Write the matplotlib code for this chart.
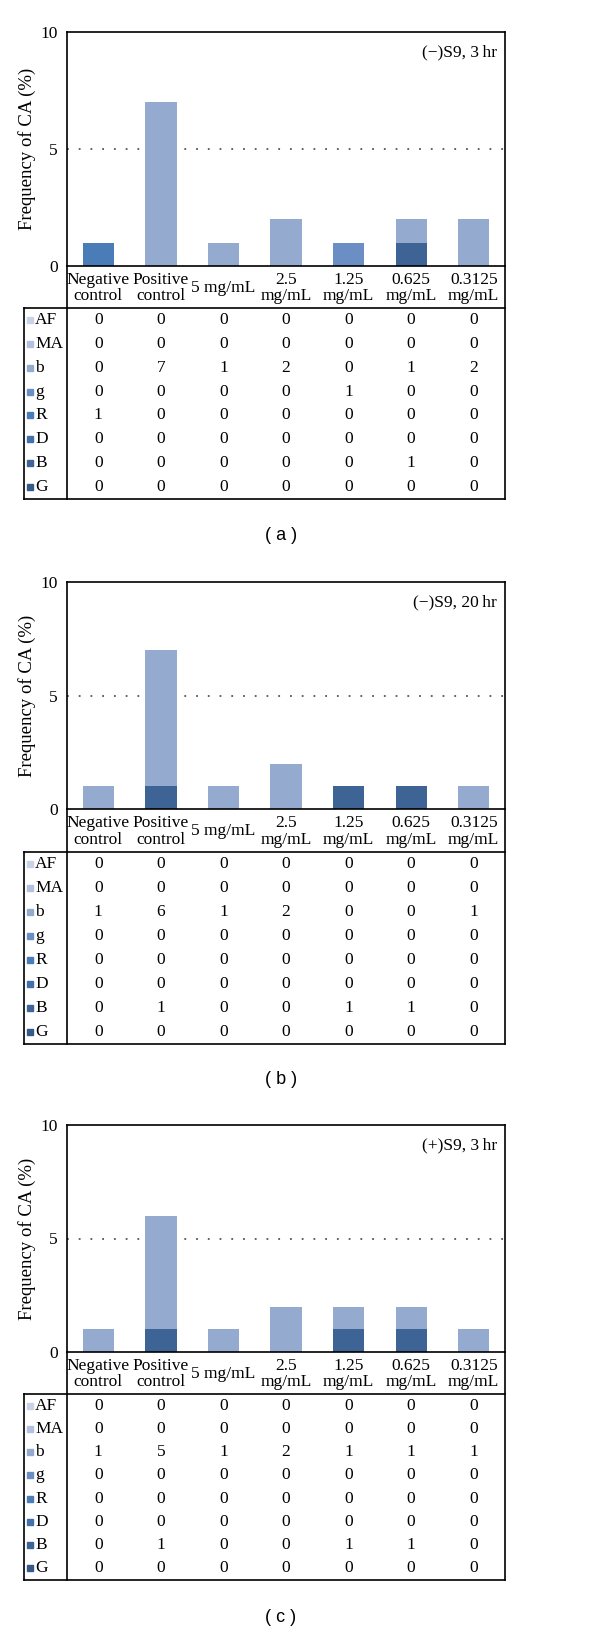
import matplotlib
matplotlib.use('Agg')
import matplotlib.pyplot as plt

plt.rcParams['font.family'] = ['Liberation Serif', 'DejaVu Serif']

categories = ['Negative\ncontrol', 'Positive\ncontrol', '5 mg/mL', '2.5\nmg/mL',
              '1.25\nmg/mL', '0.625\nmg/mL', '0.3125\nmg/mL']
aberrations = ['AF', 'MA', 'b', 'g', 'R', 'D', 'B', 'G']
colors = ['#C9D3E6', '#B2C2DE', '#95AACF', '#6B8FC4',
          '#4A7CB8', '#4270AA', '#3E6496', '#355A86']

# counts per aberration type (rows, same order as aberrations) for each treatment
counts_a = [
    [0, 0, 0, 0, 0, 0, 0],
    [0, 0, 0, 0, 0, 0, 0],
    [0, 7, 1, 2, 0, 1, 2],
    [0, 0, 0, 0, 1, 0, 0],
    [1, 0, 0, 0, 0, 0, 0],
    [0, 0, 0, 0, 0, 0, 0],
    [0, 0, 0, 0, 0, 1, 0],
    [0, 0, 0, 0, 0, 0, 0],
]
counts_b = [
    [0, 0, 0, 0, 0, 0, 0],
    [0, 0, 0, 0, 0, 0, 0],
    [1, 6, 1, 2, 0, 0, 1],
    [0, 0, 0, 0, 0, 0, 0],
    [0, 0, 0, 0, 0, 0, 0],
    [0, 0, 0, 0, 0, 0, 0],
    [0, 1, 0, 0, 1, 1, 0],
    [0, 0, 0, 0, 0, 0, 0],
]
counts_c = [
    [0, 0, 0, 0, 0, 0, 0],
    [0, 0, 0, 0, 0, 0, 0],
    [1, 5, 1, 2, 1, 1, 1],
    [0, 0, 0, 0, 0, 0, 0],
    [0, 0, 0, 0, 0, 0, 0],
    [0, 0, 0, 0, 0, 0, 0],
    [0, 1, 0, 0, 1, 1, 0],
    [0, 0, 0, 0, 0, 0, 0],
]
notes = ['(\u2212)S9, 3\u2009hr', '(\u2212)S9, 20\u2009hr', '(+)S9, 3\u2009hr']
captions = ['( a )', '( b )', '( c )']

W, H = 600, 1632
X0, X1, XT = 67, 505, 24   # plot left / right, table left edge (px)
# top, zero line, label row bottom, table bottom, caption y (px)
layout = [
    (32, 266, 308, 499, 535),
    (582, 809, 852, 1044, 1080),
    (1125, 1352, 1394, 1580, 1617),
]
FS = 12.5


def draw_panel(fig, counts, note, caption, top, zero, lab, tbot, cap_y):
    n = len(categories)
    ax = fig.add_axes([X0 / W, 1 - zero / H, (X1 - X0) / W, (zero - top) / H])
    x = list(range(n))
    bottom = [0] * n
    # darkest type at the bottom of the stack
    for color, row in reversed(list(zip(colors, counts))):
        ax.bar(x, row, width=0.5, bottom=bottom, color=color, zorder=2)
        bottom = [b + v for b, v in zip(bottom, row)]
    ax.set_xlim(-0.5, n - 0.5)
    ax.set_ylim(0, 10)
    ax.set_yticks([0, 5, 10])
    ax.set_xticks([])
    ax.tick_params(axis='y', length=0, pad=6.5, labelsize=FS)
    ax.axhline(5, color='#555555', lw=1.3, linestyle=(0, (1, 5.5)), zorder=1)
    for s in ax.spines.values():
        s.set_linewidth(1.2)
    ax.text(0.982, 1 - 20 / (zero - top), note, transform=ax.transAxes,
            ha='right', va='center', fontsize=FS)
    fig.text(27 / W, 1 - (top + zero) / 2 / H, 'Frequency of CA (%)',
             rotation=90, ha='center', va='center', fontsize=13.5)

    # table below the bars
    u = (X1 - X0) / n
    tx0 = -0.5 - (X0 - XT) / u
    tab = fig.add_axes([XT / W, 1 - tbot / H, (X1 - XT) / W, (tbot - zero) / H])
    tab.set_xlim(tx0, n - 0.5)
    tab.set_ylim(tbot - zero, 0)
    tab.axis('off')
    lh = lab - zero
    bot = tbot - zero
    rh = (tbot - lab) / len(aberrations)
    kw = dict(color='black', lw=1.2, clip_on=False, solid_capstyle='projecting')
    tab.plot([-0.5, -0.5], [0, bot], **kw)
    tab.plot([n - 0.5, n - 0.5], [0, bot], **kw)
    tab.plot([tx0, n - 0.5], [lh, lh], **kw)
    tab.plot([tx0, n - 0.5], [bot, bot], **kw)
    tab.plot([tx0, tx0], [lh, bot], **kw)
    for i, cat in enumerate(categories):
        tab.text(i, lh / 2 + 1, cat, ha='center', va='center',
                 fontsize=FS, linespacing=1.08)
    for r, (name, color, row) in enumerate(zip(aberrations, colors, counts)):
        yc = lh + (r + 0.5) * rh
        tab.plot(tx0 + 5.5 / u, yc, marker='s', ms=4.8, color=color,
                 clip_on=False)
        tab.text(tx0 + 11 / u, yc, name, ha='left', va='center', fontsize=FS)
        for i, v in enumerate(row):
            tab.text(i, yc, str(v), ha='center', va='center', fontsize=FS)

    fig.text(281 / W, 1 - cap_y / H, caption, ha='center', va='center',
             fontsize=13, family='Liberation Sans')


def main():
    fig = plt.figure(figsize=(W / 100, H / 100), dpi=100)
    panels = [counts_a, counts_b, counts_c]
    for counts, note, caption, pos in zip(panels, notes, captions, layout):
        draw_panel(fig, counts, note, caption, *pos)
    fig.savefig('out.png', dpi=100)
    plt.close(fig)


if __name__ == '__main__':
    main()
